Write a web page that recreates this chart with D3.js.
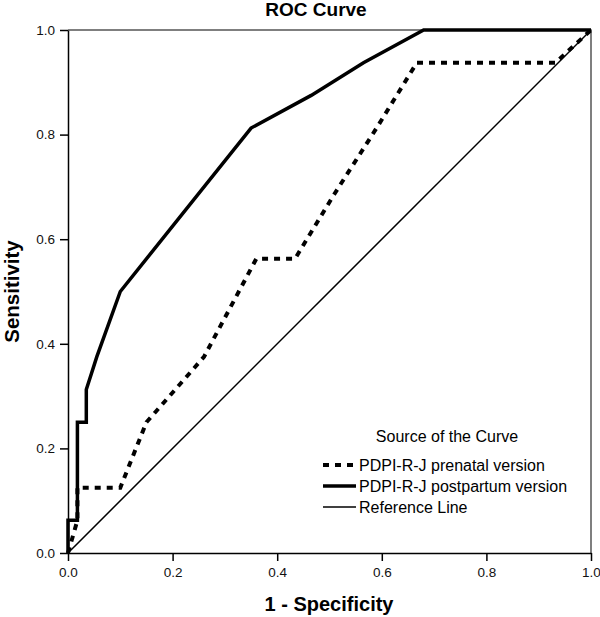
<!DOCTYPE html>
<html>
<head>
<meta charset="utf-8">
<script src="https://cdn.jsdelivr.net/npm/d3@7"></script>
<style>
  html, body { margin: 0; padding: 0; background: #fff; }
  svg { display: block; font-family: "Liberation Sans", Arial, sans-serif; }
</style>
</head>
<body>
<svg id="chart" width="600" height="617"></svg>
<script>
// ---- data ----
const tickValues = [0, 0.2, 0.4, 0.6, 0.8, 1.0];
const postFPR = [0, 0, 0.018, 0.018, 0.035, 0.035, 0.045, 0.055, 0.1, 0.35, 0.465, 0.565, 0.68, 1];
const postTPR = [0, 0.0625, 0.0625, 0.25, 0.25, 0.3125, 0.34375, 0.375, 0.5, 0.8125, 0.875, 0.9375, 1, 1];
const preFPR = [0, 0.018, 0.018, 0.1, 0.15, 0.26, 0.36, 0.434, 0.51, 0.59, 0.667, 0.932, 1];
const preTPR = [0, 0.0625, 0.125, 0.125, 0.25, 0.375, 0.5625, 0.5625, 0.6875, 0.8125, 0.9375, 0.9375, 1];
const refFPR = [0, 1];
const refTPR = [0, 1];
const legendLabels = ["PDPI-R-J prenatal version", "PDPI-R-J postpartum version", "Reference Line"];

// ---- layout ----
const svg = d3.select("#chart");
const x = d3.scaleLinear().domain([0, 1]).range([68, 591]);
const y = d3.scaleLinear().domain([0, 1]).range([553, 30]);

const line = d3.line().x(d => x(d[0])).y(d => y(d[1]));
const zip = (a, b) => a.map((v, i) => [v, b[i]]);

// frame (top & right)
svg.append("path")
  .attr("d", `M${x(0)},${y(1)}H${x(1)}V${y(0)}`)
  .attr("fill", "none").attr("stroke", "#555").attr("stroke-width", 1.5);

// reference line
svg.append("path").attr("d", line(zip(refFPR, refTPR)))
  .attr("fill", "none").attr("stroke", "#000").attr("stroke-width", 1.5);

// prenatal (dashed)
svg.append("path").attr("d", line(zip(preFPR, preTPR)))
  .attr("fill", "none").attr("stroke", "#000").attr("stroke-width", 4)
  .attr("stroke-dasharray", "6,6").attr("stroke-linejoin", "miter");

// postpartum (solid thick)
svg.append("path").attr("d", line(zip(postFPR, postTPR)))
  .attr("fill", "none").attr("stroke", "#000").attr("stroke-width", 3.5)
  .attr("stroke-linejoin", "miter");

// axes
const fmt = d3.format(".1f");
const xAxis = svg.append("g").attr("transform", `translate(0,${y(0)})`)
  .call(d3.axisBottom(x).tickValues(tickValues).tickFormat(fmt).tickSize(8).tickSizeOuter(0).tickPadding(6));
const yAxis = svg.append("g").attr("transform", `translate(${x(0)},0)`)
  .call(d3.axisLeft(y).tickValues(tickValues).tickFormat(fmt).tickSize(8).tickSizeOuter(0).tickPadding(5));
[xAxis, yAxis].forEach(g => {
  g.select(".domain").attr("stroke", "#000").attr("stroke-width", 1.5);
  g.selectAll(".tick line").attr("stroke", "#000").attr("stroke-width", 1.5);
  g.selectAll(".tick text").attr("font-size", 13.5).attr("fill", "#111")
    .attr("font-family", "'Liberation Sans', Arial, sans-serif");
});

// titles
svg.append("text").attr("x", 316).attr("y", 16).attr("text-anchor", "middle")
  .attr("font-size", 19).attr("font-weight", "bold").text("ROC Curve");
svg.append("text").attr("x", 329).attr("y", 611).attr("text-anchor", "middle")
  .attr("font-size", 20).attr("font-weight", "bold").text("1 - Specificity");
svg.append("text").attr("transform", `translate(19,${(y(0) + y(1)) / 2}) rotate(-90)`)
  .attr("text-anchor", "middle").attr("font-size", 20.5).attr("font-weight", "bold").text("Sensitivity");

// legend
const lg = svg.append("g");
lg.append("text").attr("x", 447).attr("y", 442).attr("text-anchor", "middle")
  .attr("font-size", 16).text("Source of the Curve");
const rowY = [465, 486, 507];
const styles = [
  { w: 4, dash: "6,6" },
  { w: 3.5, dash: null },
  { w: 1.5, dash: null }
];
legendLabels.forEach((lab, i) => {
  lg.append("line").attr("x1", 323).attr("x2", 356).attr("y1", rowY[i]).attr("y2", rowY[i])
    .attr("stroke", "#000").attr("stroke-width", styles[i].w)
    .attr("stroke-dasharray", styles[i].dash);
  lg.append("text").attr("x", 359).attr("y", rowY[i] + 6)
    .attr("font-size", 16).text(lab);
});
</script>
</body>
</html>
